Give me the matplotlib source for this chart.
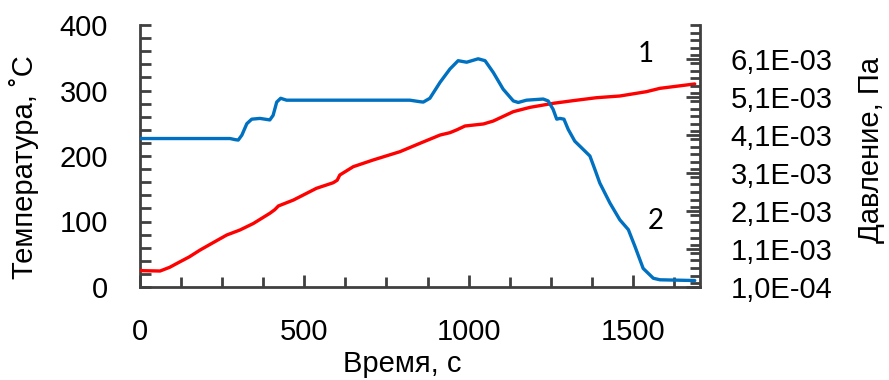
import matplotlib
matplotlib.use("Agg")
import matplotlib.pyplot as plt
from matplotlib.ticker import MultipleLocator, FixedLocator

# ---- data ----
# Curve 1: temperature, left axis
temp_time = [0, 61, 90, 122, 150, 183, 220, 264, 304, 345, 395, 410, 421, 467, 537,
             588, 600, 608, 649, 710, 791, 852, 913, 943, 963, 989, 1045, 1075, 1136,
             1187, 1257, 1318, 1389, 1460, 1541, 1582, 1688]
temp_vals = [25, 24.4, 30, 38.6, 46, 56.5, 67, 79.4, 87, 97, 112.5, 118, 123.7, 132.8, 150.7,
             159.2, 163, 171, 183.7, 194, 206.6, 219.4, 232, 235.6, 239.7, 245.8, 248.9, 253.4, 267.7,
             274.3, 280.4, 284.5, 289, 291.6, 298.2, 303.3, 310]

# Curve 2: pressure, right axis
pres_time = [0, 274, 290, 299, 310, 325, 340, 365, 395, 405, 416, 428, 446, 821, 852, 862,
             882, 913, 943, 968, 994, 1029, 1050, 1075, 1105, 1136, 1151, 1176, 1227, 1242,
             1257, 1268, 1278, 1290, 1303, 1323, 1349, 1369, 1384, 1399, 1430, 1460, 1486,
             1506, 1531, 1562, 1582, 1688]
pres_vals = [4.01e-3, 4.01e-3, 3.98e-3, 3.97e-3, 4.10e-3, 4.40e-3, 4.52e-3, 4.54e-3, 4.50e-3, 4.62e-3,
             4.97e-3, 5.07e-3, 5.02e-3, 5.02e-3, 4.98e-3, 4.97e-3,
             5.07e-3, 5.49e-3, 5.84e-3, 6.06e-3, 6.02e-3, 6.11e-3, 6.06e-3, 5.75e-3, 5.31e-3,
             5.00e-3, 4.96e-3, 5.02e-3, 5.05e-3, 5.00e-3,
             4.78e-3, 4.52e-3, 4.54e-3, 4.52e-3, 4.25e-3, 3.94e-3, 3.72e-3, 3.55e-3, 3.20e-3,
             2.84e-3, 2.31e-3, 1.87e-3, 1.61e-3, 1.17e-3, 0.59e-3, 0.33e-3, 0.29e-3, 0.27e-3]

x_ticks = [0, 500, 1000, 1500]
left_ticks = [0, 100, 200, 300, 400]
right_ticks = [1e-4, 1.1e-3, 2.1e-3, 3.1e-3, 4.1e-3, 5.1e-3, 6.1e-3]
right_tick_labels = ["1,0E-04", "1,1E-03", "2,1E-03", "3,1E-03", "4,1E-03", "5,1E-03", "6,1E-03"]

x_label = "Время, с"
left_label = "Температура, ˚С"
right_label = "Давление, Па"
curve_labels = ["1", "2"]

# ---- figure ----
plt.rcParams['font.family'] = ['Liberation Sans', 'DejaVu Sans']
W, H, DPI = 889, 380, 100
fig = plt.figure(figsize=(W / DPI, H / DPI), dpi=DPI)
L, R, B, T = 140, 700, 287, 25
ax = fig.add_axes([L / W, (H - B) / H, (R - L) / W, (B - T) / H])
ax2 = ax.twinx()

red = '#FF0000'
blue = '#0070C0'
spine_c = '#404040'
fs = 21

ax.plot(temp_time, temp_vals, color=red, lw=2.4, solid_capstyle='round', zorder=3)
ax2.plot(pres_time, pres_vals, color=blue, lw=2.4, solid_capstyle='round', zorder=3)

ax.set_xlim(0, 1704)
ax.set_ylim(0, 400)
ax2.set_ylim(1e-4, 7.0e-3)

ax.set_xticks(x_ticks)
ax.xaxis.set_minor_locator(MultipleLocator(125))
ax.set_yticks(left_ticks)
ax.yaxis.set_minor_locator(MultipleLocator(20))
ax2.yaxis.set_major_locator(FixedLocator(right_ticks))
ax2.set_yticklabels(right_tick_labels)
ax2.yaxis.set_minor_locator(MultipleLocator(2e-4))

for a in (ax, ax2):
    for s in a.spines.values():
        s.set_color(spine_c)
        s.set_linewidth(2)
    a.spines['top'].set_visible(False)
ax.spines['right'].set_visible(False)
ax2.spines['left'].set_visible(False)
ax2.spines['bottom'].set_visible(False)

ax.tick_params(axis='x', which='major', direction='in', length=9, width=2, color=spine_c,
               labelsize=fs, pad=22)
ax.tick_params(axis='x', which='minor', direction='in', length=7, width=2, color=spine_c)
ax.tick_params(axis='y', which='both', direction='in', length=8, width=2, color=spine_c,
               labelsize=fs, pad=23)
ax.tick_params(axis='y', which='minor', direction='in', length=8, width=2, color=spine_c)
ax2.tick_params(axis='y', which='major', direction='in', length=10, width=2, color=spine_c,
                labelsize=fs, pad=22)
ax2.tick_params(axis='y', which='minor', direction='in', length=7, width=2, color=spine_c)

ax.set_xlabel(x_label, fontsize=fs)
ax.xaxis.set_label_coords((402 - L) / (R - L), (B - 350) / (B - T))
ax.set_ylabel(left_label, fontsize=fs)
ax.yaxis.set_label_coords((39 - L) / (R - L), (B - 167) / (B - T))
ax2.set_ylabel(right_label, fontsize=fs)
ax2.yaxis.set_label_coords((857 - L) / (R - L), (B - 150) / (B - T))

ax.text(1539, 356, curve_labels[0], fontsize=20, family=['Lato', 'DejaVu Sans'],
        ha='center', va='center')
ax.text(1570, 101, curve_labels[1], fontsize=20, family=['Lato', 'DejaVu Sans'],
        ha='center', va='center')

fig.savefig('out.png', dpi=DPI)
